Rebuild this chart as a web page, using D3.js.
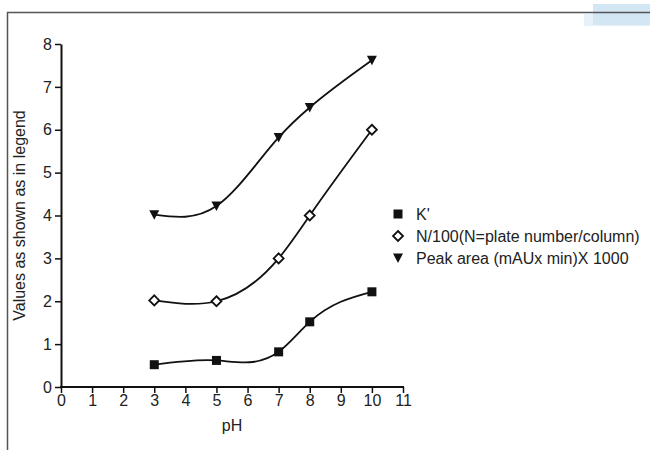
<!DOCTYPE html>
<html>
<head>
<meta charset="utf-8">
<script src="https://cdn.jsdelivr.net/npm/d3@7"></script>
<style>
  body { margin: 0; background: #fff; }
  text { font-family: "Liberation Sans", Arial, sans-serif; fill: #222; }
</style>
</head>
<body>
<div id="chart"></div>
<script>
// values
const phValues = [3, 5, 7, 8, 10];
const kPrime = [0.52, 0.62, 0.82, 1.52, 2.22];
const plateN = [2.02, 2.0, 3.0, 4.0, 6.0];
const peakArea = [4.02, 4.22, 5.82, 6.52, 7.62];
const seriesNames = ["K'", 'N/100(N=plate number/column)', 'Peak area (mAUx min)X 1000'];
const xTicks = d3.range(0, 12);
const yTicks = d3.range(0, 9);

const svg = d3.select('#chart').append('svg')
    .attr('width', 650)
    .attr('height', 450);

// scan artefact in the top right corner
svg.append('rect').attr('x', 584).attr('y', 14).attr('width', 66).attr('height', 12).attr('fill', '#e6f1f9');
svg.append('rect').attr('x', 593).attr('y', 4).attr('width', 57).attr('height', 21).attr('fill', '#d3e6f4');

// frame of the original figure
svg.append('line').attr('x1', 7).attr('y1', 12.5).attr('x2', 650).attr('y2', 12.5)
    .attr('stroke', '#555').attr('stroke-width', 1.5);
svg.append('line').attr('x1', 7.5).attr('y1', 12).attr('x2', 7.5).attr('y2', 450)
    .attr('stroke', '#555').attr('stroke-width', 1.5);

let x = d3.scaleLinear().domain([0, 11]).range([61, 403]);
let y = d3.scaleLinear().domain([0, 8]).range([387, 44]);

let xAxis = svg.append('g')
    .attr('transform', 'translate(0,387)')
    .call(d3.axisBottom(x).tickValues(xTicks).tickSize(6).tickPadding(2).tickSizeOuter(0));
let yAxis = svg.append('g')
    .attr('transform', 'translate(61,0)')
    .call(d3.axisLeft(y).tickValues(yTicks).tickSize(6).tickPadding(3).tickSizeOuter(0));

[xAxis, yAxis].forEach(a => {
    a.attr('font-size', null);
    a.select('.domain').attr('stroke', '#111').attr('stroke-width', 2);
    a.selectAll('.tick line').attr('stroke', '#111').attr('stroke-width', 1.5);
    a.selectAll('.tick text').style('font-size', '16px').attr('fill', '#222');
});
xAxis.select('.domain').attr('d', 'M60,0H404');

svg.append('text')
    .attr('x', x(5.5))
    .attr('y', 431)
    .attr('text-anchor', 'middle')
    .style('font-size', '16px')
    .text('pH');

svg.append('text')
    .attr('transform', 'translate(25,' + y(4) + ') rotate(-90)')
    .attr('text-anchor', 'middle')
    .style('font-size', '16px')
    .text('Values as shown as in legend');

// natural cubic spline of y as a function of x, drawn as bezier segments
function SplineX(context) { this._context = context; }
SplineX.prototype = {
    areaStart() { this._line = 0; },
    areaEnd() { this._line = NaN; },
    lineStart() { this._x = []; this._y = []; },
    point(px, py) { this._x.push(+px); this._y.push(+py); },
    lineEnd() {
        let xs = this._x, ys = this._y, n = xs.length;
        if (!n) return;
        this._context.moveTo(xs[0], ys[0]);
        if (n < 3) { for (let i = 1; i < n; i++) this._context.lineTo(xs[i], ys[i]); return; }
        let h = [], d = [];
        for (let i = 0; i < n - 1; i++) { h[i] = xs[i + 1] - xs[i]; d[i] = (ys[i + 1] - ys[i]) / h[i]; }
        // solve for second derivatives (natural ends)
        let a = [], b = [], c = [], r = [];
        for (let i = 1; i < n - 1; i++) {
            a.push(h[i - 1]); b.push(2 * (h[i - 1] + h[i])); c.push(h[i]); r.push(6 * (d[i] - d[i - 1]));
        }
        let m = a.length;
        for (let i = 1; i < m; i++) {
            let w = a[i] / b[i - 1];
            b[i] -= w * c[i - 1]; r[i] -= w * r[i - 1];
        }
        let M = new Array(n).fill(0);
        for (let i = m - 1; i >= 0; i--) {
            M[i + 1] = (r[i] - (i < m - 1 ? c[i] * M[i + 2] : 0)) / b[i];
        }
        for (let i = 0; i < n - 1; i++) {
            let s0 = d[i] - h[i] * (2 * M[i] + M[i + 1]) / 6;
            let s1 = d[i] + h[i] * (M[i] + 2 * M[i + 1]) / 6;
            let t = h[i] / 3;
            this._context.bezierCurveTo(xs[i] + t, ys[i] + s0 * t, xs[i + 1] - t, ys[i + 1] - s1 * t, xs[i + 1], ys[i + 1]);
        }
    }
};
const curveSplineX = context => new SplineX(context);

let line = d3.line()
    .x(d => x(d[0]))
    .y(d => y(d[1]))
    .curve(curveSplineX);

const allSeries = [kPrime, plateN, peakArea];
allSeries.forEach(vals => {
    let pts = phValues.map((p, i) => [p, vals[i]]);
    svg.append('path')
        .datum(pts)
        .attr('d', line)
        .attr('fill', 'none')
        .attr('stroke', '#111')
        .attr('stroke-width', 1.8);
});

function drawMarker(g, kind, cx, cy) {
    if (kind == 0) {
        g.append('rect').attr('x', cx - 4.5).attr('y', cy - 4.5)
            .attr('width', 9).attr('height', 9).attr('fill', '#111');
    } else if (kind == 1) {
        g.append('path')
            .attr('d', `M${cx},${cy - 5}L${cx + 5},${cy}L${cx},${cy + 5}L${cx - 5},${cy}Z`)
            .attr('fill', '#fff').attr('stroke', '#111').attr('stroke-width', 1.8);
    } else {
        g.append('path')
            .attr('d', `M${cx - 5},${cy - 4.5}L${cx + 5},${cy - 4.5}L${cx},${cy + 5}Z`)
            .attr('fill', '#111');
    }
}

allSeries.forEach((vals, k) => {
    phValues.forEach((p, i) => drawMarker(svg, k, x(p), y(vals[i])));
});

// legend
seriesNames.forEach((name, k) => {
    let ly = 214 + k * 22;
    drawMarker(svg, k, 398, ly);
    svg.append('text')
        .attr('x', 416)
        .attr('y', ly + 6)
        .style('font-size', '16px')
        .text(name);
});
</script>
</body>
</html>
